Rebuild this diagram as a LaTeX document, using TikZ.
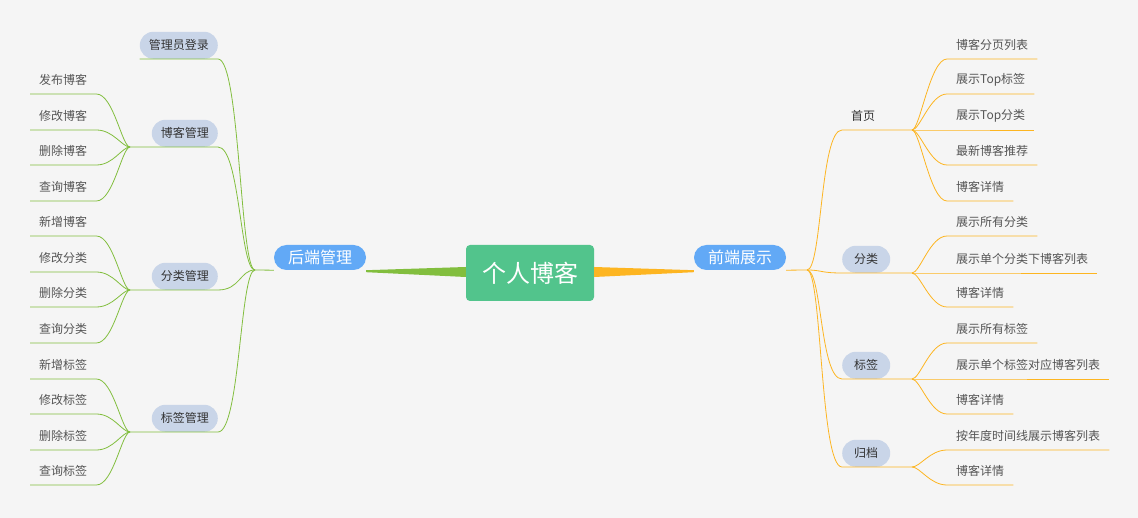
\documentclass[tikz,border=0pt]{standalone}
\usepackage{fontspec}
\newfontfamily\cjk{Noto Sans CJK SC}
\usetikzlibrary{calc}
\definecolor{bgcol}{HTML}{F5F5F5}
\definecolor{rootgreen}{HTML}{52C48C}
\definecolor{mainblue}{HTML}{62A9F6}
\definecolor{pillgray}{HTML}{C9D5E8}
\definecolor{backline}{HTML}{82BE3E}
\definecolor{frontline}{HTML}{FDB521}
\definecolor{leaftext}{HTML}{555555}
\tikzset{
  rootbox/.style={fill=rootgreen, rounded corners=4pt, minimum width=128pt, minimum height=56pt, text=white, font=\cjk\fontsize{24}{24}\selectfont},
  mainpill/.style={fill=mainblue, rounded corners=12.5pt, minimum height=25pt, inner xsep=14pt, inner ysep=0pt, text=white, font=\cjk\fontsize{16}{16}\selectfont},
  subpill/.style={fill=pillgray, rounded corners=13.5pt, minimum height=27pt, inner xsep=9pt, inner ysep=0pt, text=black!80, font=\cjk\fontsize{12}{12}\selectfont},
  subtext/.style={subpill, fill=none},
  leaf/.style={anchor=south west, minimum height=28pt, inner xsep=9pt, inner ysep=0pt, text=leaftext, font=\cjk\fontsize{12}{12}\selectfont},
  backwire/.style={draw=backline, line width=0.8pt},
  frontwire/.style={draw=frontline, line width=0.8pt}
}
\begin{document}
\begin{tikzpicture}[x=1pt,y=-1pt]
    \fill[bgcol] (0,0) rectangle (1138,518);
    \useasboundingbox (0,0) rectangle (1138,518);
    \node[rootbox] (root) at (530,273) {个人博客};
    \node[mainpill] (back) at (320,257.5) {后端管理};
    \node[mainpill] (front) at (740,257.5) {前端展示};
    \fill[backline] (back.south east) -- ($(root.west)+(0,-6)$) -- ($(root.west)+(0,4)$) -- ($(back.south east)+(0,2)$) -- cycle;
    \fill[frontline] (front.south west) -- ($(root.east)+(0,-6)$) -- ($(root.east)+(0,4)$) -- ($(front.south west)+(0,2)$) -- cycle;
    % left side
    \node[subpill,anchor=south east] (admin) at (218,59) {管理员登录};
    \node[subpill,anchor=south east] (blogm) at (218,147) {博客管理};
    \node[subpill,anchor=south east] (catm) at (218,290) {分类管理};
    \node[subpill,anchor=south east] (tagm) at (218,432) {标签管理};
    \coordinate (bl) at (255,270);
    \coordinate (blogmb) at (130,147);
    \coordinate (catmb) at (130,290);
    \coordinate (tagmb) at (130,432);
    \draw[backwire] (back.south west) -- (bl);
    \draw[backwire] (bl) .. controls +(-15,0) and +(22,0) .. (admin.south east) -- (admin.south west);
    \foreach \s in {blogm,catm,tagm}
    \draw[backwire] (bl) .. controls +(-15,0) and +(22,0) .. (\s.south east) -- (\s b);
    \foreach \t/\y/\p in {发布博客/94/blogm, 修改博客/130/blogm, 删除博客/165/blogm, 查询博客/201/blogm,
        新增博客/236/catm, 修改分类/272/catm, 删除分类/307/catm, 查询分类/343/catm,
        新增标签/379/tagm, 修改标签/414/tagm, 删除标签/450/tagm, 查询标签/485/tagm}
    {
    \node[leaf] (l\y) at (30,\y) {\t};
    \draw[backwire] (l\y.south west) -- (l\y.south east) .. controls +(17,0) and +(-8,0) .. (\p b);
    }
    % right side
    \node[subtext,anchor=south west,minimum width=42pt] (home) at (842,130) {首页};
    \node[subpill,anchor=south west,minimum width=48pt] (cat) at (842,273) {分类};
    \node[subpill,anchor=south west,minimum width=48pt] (tag) at (842,379) {标签};
    \node[subpill,anchor=south west,minimum width=48pt] (arch) at (842,467) {归档};
    \coordinate (br) at (807,270);
    \coordinate (homeb) at (912,130);
    \coordinate (catb) at (912,273);
    \coordinate (tagb) at (912,379);
    \coordinate (archb) at (912,467);
    \draw[frontwire] (front.south east) -- (br);
    \foreach \s in {home,cat,tag,arch}
    \draw[frontwire] (br) .. controls +(15,0) and +(-22,0) .. (\s.south west) -- (\s b);
    \foreach \t/\y/\p in {博客分页列表/59/home, 展示Top标签/94/home, 展示Top分类/130/home, 最新博客推荐/165/home, 博客详情/201/home,
        展示所有分类/236/cat, 展示单个分类下博客列表/273/cat, 博客详情/307/cat,
        展示所有标签/343/tag, 展示单个标签对应博客列表/379/tag, 博客详情/414/tag,
        按年度时间线展示博客列表/450/arch, 博客详情/485/arch}
    {
    \node[leaf] (r\y) at (947,\y) {\t};
    \draw[frontwire] (\p b) .. controls +(8,0) and +(-17,0) .. (r\y.south west) -- (r\y.south east);
    }
\end{tikzpicture}
\end{document}
